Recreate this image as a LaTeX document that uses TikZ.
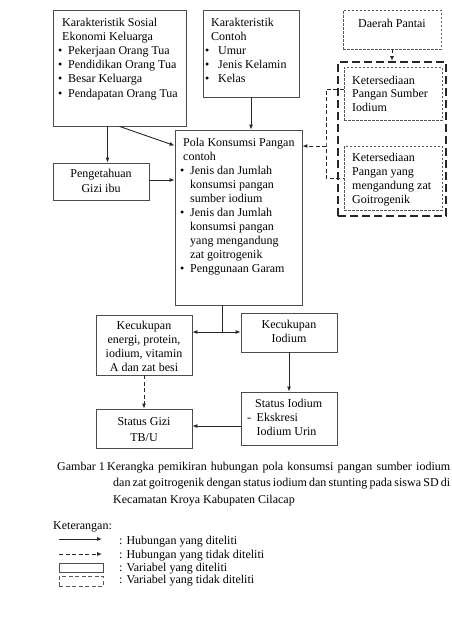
\documentclass[tikz,border=0pt]{standalone}
\usepackage{fontspec}
\setmainfont{Liberation Serif}
\usetikzlibrary{arrows.meta,fit,calc}
\newcommand{\bu}[1]{\makebox[#1][l]{\textbullet}}
\begin{document}
\begin{tikzpicture}[x=1pt,y=-1pt,
  bx/.style={draw=black!70, line width=0.8pt, inner sep=0pt},
  dbx/.style={draw=black!65, line width=0.6pt, dash pattern=on 2.5pt off 1.5pt, inner sep=0pt},
  bigbx/.style={draw=black!85, line width=2pt, dash pattern=on 8pt off 4pt, inner sep=0pt},
  arr/.style={draw=black!85, line width=0.9pt, -{Latex[length=5pt,width=4pt]}},
  ln/.style={draw=black!85, line width=0.9pt},
  dsh/.style={dash pattern=on 4pt off 2.5pt},
  txt/.style={inner sep=0pt, align=left, anchor=north west, font=\fontsize{12}{14.2}\selectfont},
  ctxt/.style={inner sep=0pt, align=center, anchor=north, font=\fontsize{12}{14.2}\selectfont},
  one/.style={inner sep=0pt, anchor=base west, font=\fontsize{12}{14.2}\selectfont},
]
\fill[white] (0,0) rectangle (452,635);
\useasboundingbox (0,0) rectangle (452,635);

% boxes
\node[bx, fit={(53,10) (186,126)}] (b1) {};
\node[bx, fit={(203,10) (299,97)}] (b2) {};
\node[dbx, fit={(343,10) (441,49)}] (dp) {};
\node[bigbx, fit={(338,62) (446,216)}] (big) {};
\node[dbx, fit={(344,67) (442,120)}] (k1) {};
\node[dbx, fit={(344,146) (442,210)}] (k2) {};
\node[bx, fit={(175,130) (302,305)}] (pola) {};
\node[bx, fit={(53,163) (149,200)}] (peng) {};
\node[bx, fit={(96,315) (192,375)}] (ke) {};
\node[bx, fit={(241,313) (337,352)}] (ki) {};
\node[bx, fit={(241,392) (337,445)}] (si) {};
\node[bx, fit={(96,409) (192,448)}] (sg) {};

% texts
\node[txt] (t1) at (58,16) {\strut\hspace*{4pt}Karakteristik Sosial\\
\hspace*{4pt}Ekonomi Keluarga\\
\bu{10pt}Pekerjaan Orang Tua\\
\bu{10pt}Pendidikan Orang Tua\\
\bu{10pt}Besar Keluarga\\
\bu{10pt}Pendapatan Orang Tua};
\node[txt] (t2) at (205,16) {\strut\hspace*{6pt}Karakteristik\\
\hspace*{6pt}Contoh\\
\bu{13pt}Umur\\
\bu{13pt}Jenis Kelamin\\
\bu{13pt}Kelas};
\node[one, anchor=base] (tdp) at (392,27) {Daerah Pantai};
\node[txt, font=\fontsize{12}{13.6}\selectfont] (tk1) at (352,74.5) {\strut Ketersediaan\\Pangan Sumber\\Iodium};
\node[txt] (tk2) at (352,151) {\strut Ketersediaan\\Pangan yang\\mengandung zat\\Goitrogenik};
\node[txt, font=\fontsize{12}{14}\selectfont] (tp) at (180,136.2) {\strut\hspace*{3pt}Pola Konsumsi Pangan\\
\hspace*{3pt}contoh\\
\bu{10pt}Jenis dan Jumlah\\
\hspace*{10pt}konsumsi pangan\\
\hspace*{10pt}sumber iodium\\
\bu{10pt}Jenis dan Jumlah\\
\hspace*{10pt}konsumsi pangan\\
\hspace*{10pt}yang mengandung\\
\hspace*{10pt}zat goitrogenik\\
\bu{10pt}Penggunaan Garam};
\node[ctxt, font=\fontsize{12}{15}\selectfont] (tpg) at (101,166.5) {\strut Pengetahuan\\Gizi ibu};
\node[ctxt] (tke) at (144,319) {\strut Kecukupan\\energi, protein,\\iodium, vitamin\\A dan zat besi};
\node[ctxt] (tki) at (289,318) {\strut Kecukupan\\Iodium};
\node[txt] (tsi) at (247,397) {\strut\hspace*{8pt}Status Iodium\\
\makebox[9.5pt][l]{-}Ekskresi\\
\hspace*{9.5pt}Iodium Urin};
\node[ctxt, font=\fontsize{12}{16}\selectfont] (tsg) at (144,413.8) {\strut Status Gizi\\TB/U};

% connectors
\draw[arr] (b2.south) -- (b2.south |- pola.north);
\draw[arr] (b1.south) -- ($(pola.north west)+(0,16)$);
\draw[arr] ([xshift=-12pt]b1.south) -- ([xshift=-12pt]b1.south |- peng.north);
\draw[arr] ([yshift=1.5pt]peng.east) -- ([yshift=1.5pt]peng.east -| pola.west);
\coordinate (split) at (222,332);
\draw[ln] (split |- pola.south) -- (split);
\draw[arr] (split) -- (split -| ke.east);
\draw[arr] (split) -- (split -| ki.west);
\draw[arr] (ki.south) -- (ki.south |- si.north);
\draw[arr, dsh] (ke.south) -- (ke.south |- sg.north);
\draw[arr] ([yshift=-7.5pt]si.west) -- ([yshift=-7.5pt]si.west -| sg.east);
\draw[arr, dsh] (dp.south) -- (dp.south |- big.north);
\coordinate (brk) at (326,146);
\draw[ln, dsh] ([yshift=4.5pt]k1.west) -| (brk) |- (k2.west);
\draw[arr, dsh] (brk) -- (brk -| pola.east);

% caption
\node[one] (gam) at (57,470) {Gambar 1};
\node[txt, font=\fontsize{12}{16.5}\selectfont] (cap) at (113,458.45) {\strut\hspace*{-6pt}\makebox[343pt][s]{Kerangka pemikiran hubungan pola konsumsi pangan sumber iodium}\\
\makebox[337pt][s]{dan zat goitrogenik dengan status iodium dan stunting pada siswa SD di}\\
Kecamatan Kroya Kabupaten Cilacap};

% legend
\node[one] (ket) at (53,529) {Keterangan:};
\coordinate (la1) at (59,539); \coordinate (lb1) at (102,539);
\coordinate (la2) at (59,554); \coordinate (lb2) at (102,554);
\draw[arr] (la1) -- (lb1);
\draw[arr, dsh] (la2) -- (lb2);
\node[bx, fit={(59,563) (103,572)}] (lr1) {};
\node[dbx, dash pattern=on 4pt off 2.5pt, fit={(59,576) (103,586)}] (lr2) {};
\node[one] (l1) at (119,544) {: Hubungan yang diteliti};
\node[one] (l2) at (119,558) {: Hubungan yang tidak diteliti};
\node[one] (l3) at (119,571) {: Variabel yang diteliti};
\node[one] (l4) at (119,583) {: Variabel yang tidak diteliti};
\end{tikzpicture}
\end{document}
